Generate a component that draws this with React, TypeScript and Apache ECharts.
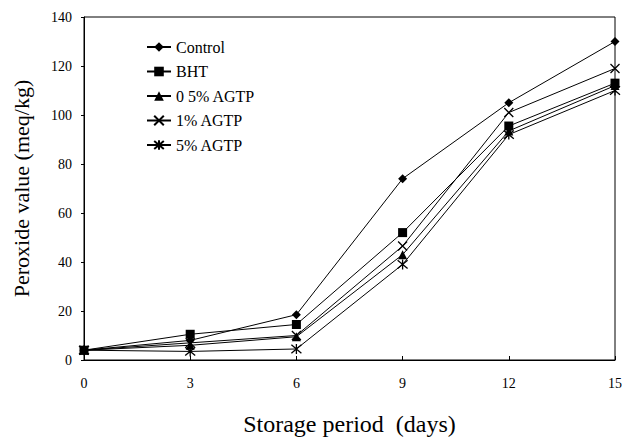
import React, { useEffect, useRef } from "react";
import * as echarts from "echarts";

const days = [0, 3, 6, 9, 12, 15];
const seriesNames = ["Control", "BHT", "0 5% AGTP", "1% AGTP", "5% AGTP"];
const control = [4, 8, 18.5, 74, 105, 130];
const bht = [4, 10.5, 14.5, 52, 95.5, 113];
const agtp05 = [4, 6, 9.5, 43, 93.5, 112];
const agtp1 = [4, 7, 10, 46.5, 101, 119];
const agtp5 = [4, 3.5, 4.5, 39, 92, 110];
const yTicks = [0, 20, 40, 60, 80, 100, 120, 140];

const X_PATH = "path://M0,0L10,10M10,0L0,10";
const STAR_PATH = "path://M0,0L10,10M10,0L0,10M5,-1L5,11";

export default function App() {
  const ref = useRef<HTMLDivElement>(null);
  useEffect(() => {
    const chart = echarts.init(ref.current!, undefined, { renderer: "svg" });
    const font = "'Liberation Serif', 'Times New Roman', serif";
    const values = [control, bht, agtp05, agtp1, agtp5];
    const symbols = ["diamond", "rect", "triangle", X_PATH, STAR_PATH];
    const sizes = [9, 9, 9, 9, 10];
    const series = seriesNames.map((name, i) => {
      const open = i >= 3;
      return {
        name,
        type: "line",
        data: days.map((d, j) => [d, values[i][j]]),
        symbol: symbols[i],
        symbolSize: sizes[i],
        showAllSymbol: true,
        lineStyle: { color: "#000", width: 1 },
        itemStyle: open
          ? { color: "none", borderColor: "#000", borderWidth: 1.3 }
          : { color: "#000", borderColor: "#000", borderWidth: 0 },
        emphasis: { disabled: true },
      };
    });
    chart.setOption({
      animation: false,
      backgroundColor: "#fff",
      textStyle: { fontFamily: font },
      grid: {
        left: 84,
        right: 7,
        top: 17,
        bottom: 79,
        outerBoundsMode: "none",
        containLabel: false,
        show: true,
        borderColor: "#000",
        borderWidth: 1,
      },
      legend: {
        orient: "vertical",
        left: 141,
        top: 34,
        itemGap: 8.5,
        itemWidth: 24,
        itemHeight: 12,
        data: seriesNames,
        textStyle: { fontFamily: font, fontSize: 16, color: "#000" },
      },
      xAxis: {
        type: "value",
        min: 0,
        max: 15,
        interval: 3,
        name: "Storage period  (days)",
        nameLocation: "middle",
        nameGap: 52,
        nameTextStyle: { fontFamily: font, fontSize: 24, color: "#000" },
        axisLine: { lineStyle: { color: "#000" } },
        axisTick: { inside: true, length: 4, lineStyle: { color: "#000" } },
        axisLabel: { color: "#000", fontSize: 14, fontFamily: font, margin: 16 },
        splitLine: { show: false },
      },
      yAxis: {
        type: "value",
        min: 0,
        max: 140,
        interval: 20,
        name: "Peroxide value (meq/kg)",
        nameLocation: "middle",
        nameGap: 52,
        nameTextStyle: { fontFamily: font, fontSize: 22, color: "#000" },
        axisLine: { show: true, lineStyle: { color: "#000" } },
        axisTick: { show: true, inside: false, length: 3, lineStyle: { color: "#000" } },
        axisLabel: {
          color: "#000",
          fontSize: 14,
          fontFamily: font,
          margin: 12,
          formatter: (v: number) => (yTicks.includes(v) ? String(v) : ""),
        },
        splitLine: { show: false },
      },
      series,
    });
    return () => chart.dispose();
  }, []);
  return <div ref={ref} style={{ width: 622, height: 439, position: "absolute", left: 0, top: 0 }} />;
}
